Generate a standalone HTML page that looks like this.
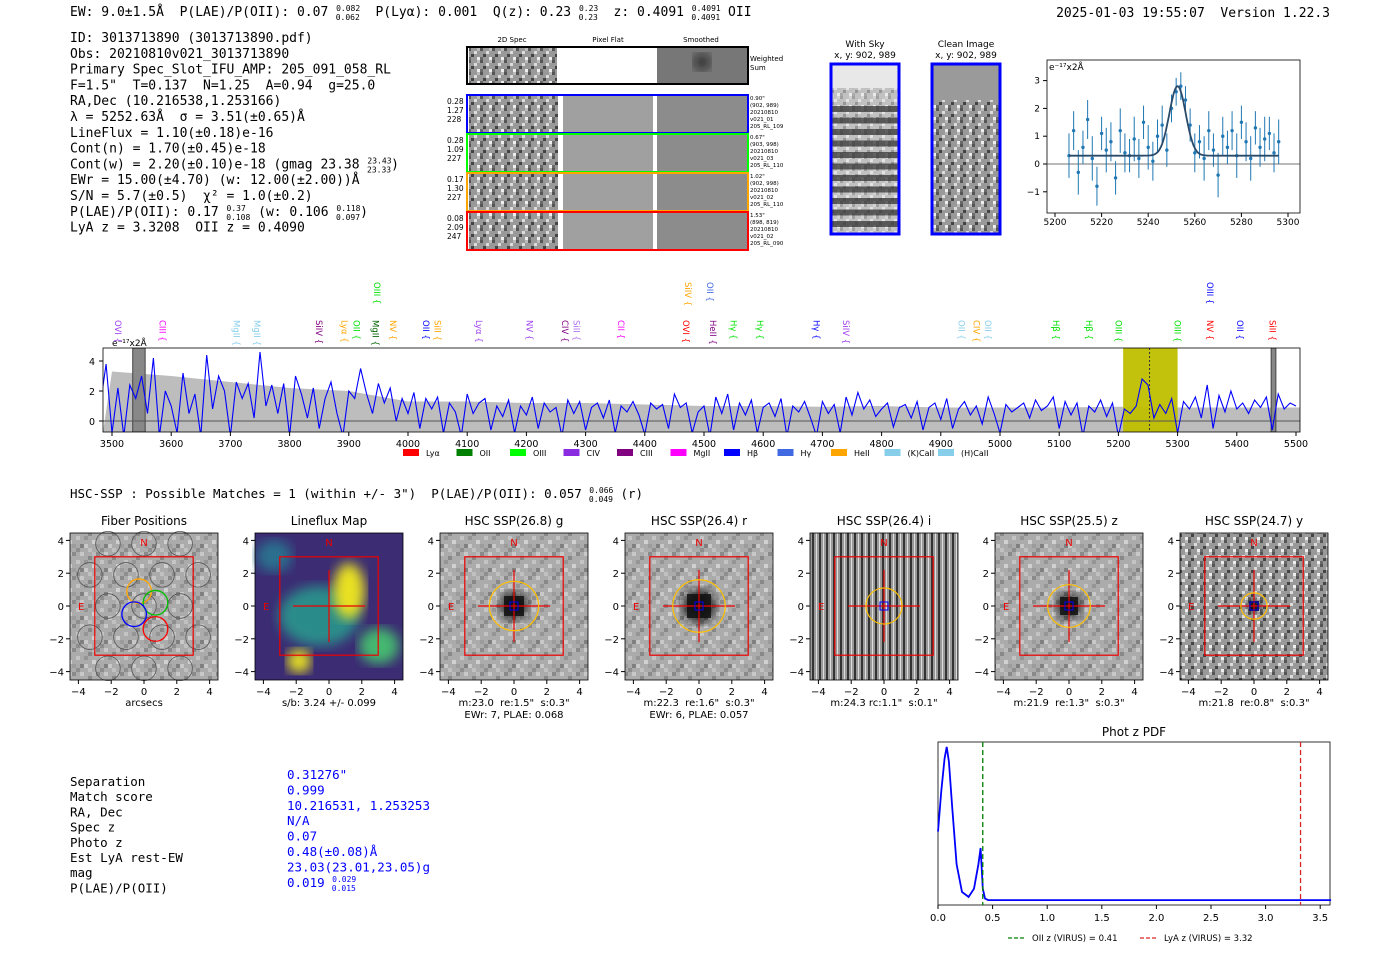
<!DOCTYPE html>
<html><head><meta charset="utf-8"><style>
body{margin:0;background:#fff;width:1400px;height:953px;overflow:hidden}
svg text{font-family:"DejaVu Sans","Liberation Sans",sans-serif;white-space:pre}
.mono{font-family:"DejaVu Sans Mono","Liberation Mono",monospace}
</style></head><body>
<svg id="s" width="1400" height="953" xmlns="http://www.w3.org/2000/svg" xml:space="preserve">
<defs>
<pattern id="noise" width="24" height="24" patternUnits="userSpaceOnUse">
<rect width="24" height="24" fill="#ababab"/>
<rect x="0" y="0" width="4" height="4" fill="#8a8a8a"/><rect x="8" y="0" width="4" height="4" fill="#c8c8c8"/><rect x="16" y="4" width="4" height="4" fill="#888"/><rect x="4" y="8" width="4" height="4" fill="#c4c4c4"/><rect x="12" y="8" width="4" height="4" fill="#959595"/><rect x="20" y="12" width="4" height="4" fill="#d0d0d0"/><rect x="0" y="16" width="4" height="4" fill="#9c9c9c"/><rect x="8" y="16" width="4" height="4" fill="#808080"/><rect x="16" y="20" width="4" height="4" fill="#c0c0c0"/><rect x="4" y="20" width="4" height="4" fill="#8e8e8e"/><rect x="20" y="0" width="4" height="4" fill="#bbb"/><rect x="12" y="16" width="4" height="4" fill="#c8c8c8"/>
</pattern>
<pattern id="fine" width="12" height="12" patternUnits="userSpaceOnUse">
<rect width="12" height="12" fill="#999"/>
<rect x="0" y="0" width="3" height="3" fill="#555"/><rect x="6" y="3" width="3" height="3" fill="#ddd"/><rect x="3" y="6" width="3" height="3" fill="#444"/><rect x="9" y="9" width="3" height="3" fill="#eee"/><rect x="9" y="0" width="3" height="3" fill="#bbb"/><rect x="0" y="9" width="3" height="3" fill="#6a6a6a"/>
</pattern>
<pattern id="stripes" width="7" height="7" patternUnits="userSpaceOnUse"><rect width="7" height="7" fill="#999"/><rect width="2" height="7" fill="#333"/><rect x="4" width="1" height="7" fill="#ddd"/></pattern>
<filter id="bl"><feGaussianBlur stdDeviation="6"/></filter>
</defs>
</svg>
<script>
// ---------- DATA ----------
const specWave0 = 3480, specStep = 10;
const specFlux = [1,3.8,-0.8,2.2,-1,2.4,1.5,3,0.5,4.2,
-1,2,1,-0.8,3.2,0.5,1.8,-1,4.4,0.8,
3,2,-1,2.6,1.5,2.5,0.2,4.6,1,2.4,
0.5,2.5,-1,3,1.8,0.2,2.2,-0.5,1.5,2.6,
0.5,-1,2,1.5,3.5,1.8,0.5,2.5,1.2,2.2,
0,1.5,0.5,1.9,-0.5,1.5,0.8,1.6,-0.8,1.2,
0.6,-1,1.8,0.5,1.2,1.5,-0.6,1.0,0.3,1.4,
-0.8,1.0,0.4,1.6,-0.5,1.2,0.6,0.9,-1,1.4,
0.5,1.3,-0.6,0.9,1.2,0.2,1.4,-0.8,1.0,0.6,
1.3,0.4,-0.9,1.2,0.8,1.1,-0.5,1.8,0.9,1.2,
-0.8,0.6,1.0,-1,1.6,0.5,1.8,-0.6,1.2,0.4,
1.4,-0.8,0.9,1.2,0.3,1.5,-1,1.0,0.6,1.3,
0.2,-1,1.3,0.5,1.1,-0.8,1.6,0.4,1.9,0.8,
1.4,0.3,0.8,1.2,-0.4,0.9,1.1,0.2,1.3,-0.6,
0.9,1.2,0.1,1.5,-0.5,0.8,1.3,0.4,1.0,-0.2,
1.6,0.5,-0.8,1.1,0.6,0.9,1.2,0.2,1.4,0.7,
1.0,1.6,-0.5,1.3,0.4,1.2,-1,1.0,0.6,1.4,
0.3,1.2,-1,0.8,0.5,1.0,2.8,2.4,0.2,1.1,
0.5,1.5,-0.8,1.3,0.8,1.6,0.2,2.4,-0.5,1.7,
0.6,2.0,0.8,1.2,0.5,1.4,0.9,1.6,-0.6,1.8,
0.8,1.2,1.0];
const errWave = [3500,3600,3700,3800,3900,4000,4100,4200,4300,4400,4500,4600,4700,4800,4900,5000,5100,5200,5300,5400,5500];
const errVals = [3.3,3.0,2.6,2.2,2.0,1.3,1.3,1.2,1.2,1.1,1.0,1.0,0.95,1.0,0.9,0.9,0.9,0.95,0.9,0.9,0.9];
const specXTicks = [3500,3600,3700,3800,3900,4000,4100,4200,4300,4400,4500,4600,4700,4800,4900,5000,5100,5200,5300,5400,5500];
const specYTicks = [0,2,4];
const lineLabels = [["OVI",3510,"#a040f0",0],["CIII",3585,"#ff00ff",0],["MgII",3710,"#87ceeb",0],["MgII",3745,"#87ceeb",0],["SiIV",3850,"#800080",0],["Lyα",3893,"#ffa500",0],["OII",3913,"#00e000",0],["MgII",3945,"#006400",0],["OIII",3948,"#00e000",1],["NV",3975,"#ffa500",0],["OII",4030,"#0000ff",0],["SiII",4050,"#ffa500",0],["Lyα",4120,"#a040f0",0],["NV",4205,"#a040f0",0],["CIV",4265,"#800080",0],["SiII",4285,"#b070f0",0],["CII",4360,"#ff00ff",0],["OVI",4470,"#ff0000",0],["SiIV",4473,"#ffa500",1],["OII",4510,"#4169e1",1],["HeII",4515,"#800080",0],["Hγ",4550,"#00e000",0],["Hγ",4595,"#00e000",0],["Hγ",4690,"#0000ff",0],["SiIV",4740,"#a040f0",0],["OII",4935,"#87ceeb",0],["CIV",4960,"#ffa500",0],["OII",4980,"#87ceeb",0],["Hβ",5095,"#00e000",0],["Hβ",5150,"#00e000",0],["OIII",5200,"#00e000",0],["OIII",5300,"#00e000",0],["NV",5355,"#ff0000",0],["OIII",5355,"#0000ff",1],["OII",5405,"#0000ff",0],["SiII",5460,"#ff0000",0]];
const legendNames = ["Lyα","OII","OIII","CIV","CIII","MgII","Hβ","Hγ","HeII","(K)CaII","(H)CaII"];
const legendColors = ["#ff0000","#008000","#00ff00","#8a2be2","#800080","#ff00ff","#0000ff","#4169e1","#ffa500","#87ceeb","#87ceeb"];
const fitWave0 = 5206, fitStep = 2;
const fitFlux = [0.3,1.2,-0.3,0.6,1.6,0.2,-0.8,1.1,0.5,0.8,-0.5,1.2,0.4,0.3,0.9,0.2,1.5,0.6,0.1,1.0,1.4,0.5,2.0,2.6,2.8,2.3,1.4,0.4,0.8,0.2,1.2,0.5,-0.4,1.0,0.6,1.2,0.3,1.5,0.8,0.2,1.3,0.6,0.9,1.1,0.4,0.8];
const fitErr = [0.8,0.7,0.8,0.6,0.7,0.8,0.7,0.6,0.8,0.7,0.6,0.8,0.7,0.6,0.8,0.7,0.6,0.8,0.7,0.6,0.7,0.6,0.5,0.5,0.5,0.5,0.6,0.7,0.6,0.8,0.7,0.6,0.8,0.7,0.6,0.7,0.8,0.6,0.7,0.8,0.6,0.7,0.8,0.6,0.7,0.8];
const fitParams = [2.5,5252.6,3.51,0.3]; // amp, mu, sigma, cont
const fitXTicks = [5200,5220,5240,5260,5280,5300];
const fitYTicks = [-1,0,1,2,3];
const pdfZ = [0,0.03,0.06,0.08,0.1,0.13,0.17,0.22,0.28,0.33,0.37,0.39,0.41,0.43,0.46,0.5,1,2,3,3.6];
const pdfP = [0.45,0.7,0.9,0.97,0.88,0.6,0.25,0.08,0.05,0.1,0.25,0.35,0.1,0.04,0.03,0.03,0.03,0.03,0.03,0.03];
const pdfTicks = [0,0.5,1,1.5,2,2.5,3,3.5];
const pdfLines = [0.41,3.32];
const cutTitles = ["Fiber Positions","Lineflux Map","HSC SSP(26.8) g","HSC SSP(26.4) r","HSC SSP(26.4) i","HSC SSP(25.5) z","HSC SSP(24.7) y"];
const cutXLab = [["arcsecs"],["s/b: 3.24 +/- 0.099"],["m:23.0  re:1.5\"  s:0.3\"","EWr: 7, PLAE: 0.068"],["m:22.3  re:1.6\"  s:0.3\"","EWr: 6, PLAE: 0.057"],["m:24.3 rc:1.1\"  s:0.1\""],["m:21.9  re:1.3\"  s:0.3\""],["m:21.8  re:0.8\"  s:0.3\""]];
const cutAper = [0,0,1.5,1.6,1.1,1.3,0.8];
const cutTicks = [-4,-2,0,2,4];

// ---------- helpers ----------
const S = document.getElementById('s'), NS = "http://www.w3.org/2000/svg";
function mk(tag, attrs, txt, parent){const e=document.createElementNS(NS,tag);for(const k in attrs)e.setAttribute(k,attrs[k]);if(txt!=null)e.textContent=txt;(parent||S).appendChild(e);return e;}
function T(x,y,s,size,opt){opt=opt||{};const e=mk('text',Object.assign({x:x,y:y,'font-size':size,fill:opt.fill||'#000','text-anchor':opt.anchor||'start'},opt.extra||{}),s);if(opt.mono)e.setAttribute('class','mono');return e;}
function sup(a,b){return '<tspan font-size="8" dy="-5">'+a+'</tspan><tspan font-size="8" dx="-'+(a.length*4.9).toFixed(1)+'" dy="9">'+b+'</tspan><tspan dy="-4">';}

// ---------- header ----------
let h = T(70,16,'',13,{mono:1});


h.innerHTML='EW: 9.0±1.5Å  P(LAE)/P(OII): 0.07 '+sup('0.082','0.062')+'  P(Lyα): 0.001  Q(z): 0.23 </tspan>'+sup('0.23','0.23')+'  z: 0.4091 </tspan>'+sup('0.4091','0.4091')+' OII</tspan>';
let hv = T(1330,17,'2025-01-03 19:55:07  Version 1.22.3',13,{mono:1,anchor:'end'});



const info = ['ID: 3013713890 (3013713890.pdf)','Obs: 20210810v021_3013713890','Primary Spec_Slot_IFU_AMP: 205_091_058_RL','F=1.5"  T=0.137  N=1.25  A=0.94  g=25.0','RA,Dec (10.216538,1.253166)','λ = 5252.63Å  σ = 3.51(±0.65)Å','LineFlux = 1.10(±0.18)e-16','Cont(n) = 1.70(±0.45)e-18','Cont(w) = 2.20(±0.10)e-18 (gmag 23.38 ','EWr = 15.00(±4.70) (w: 12.00(±2.00))Å','S/N = 5.7(±0.5)  χ² = 1.0(±0.2)','P(LAE)/P(OII): 0.17 ','LyA z = 3.3208  OII z = 0.4090'];
info.forEach((s,i)=>{const e=T(70,42+i*15.8,s,13,{mono:1});


if(i===8) e.innerHTML=s+sup('23.43','23.33')+')</tspan>';
if(i===11) e.innerHTML=s+sup('0.37','0.108')+' (w: 0.106 </tspan>'+sup('0.118','0.097')+')</tspan>';
});

// ---------- 2D spectra ----------
const g2=mk('g',{});


[['2D Spec',512],['Pixel Flat',608],['Smoothed',701]].forEach(a=>T(a[1],42,a[0],7,{anchor:'middle'}));
mk('rect',{x:469,y:48,width:88,height:35,fill:'url(#fine)'},null,g2);
mk('rect',{x:558,y:48,width:98,height:35,fill:'#fff'},null,g2);
mk('rect',{x:657,y:48,width:90,height:35,fill:'#777'},null,g2);
mk('ellipse',{cx:702,cy:62,rx:8,ry:8,fill:'#222',filter:'url(#bl)'},null,g2);
mk('rect',{x:467,y:47,width:281,height:37,fill:'none',stroke:'#000','stroke-width':2},null,g2);
T(750,61,'Weighted',7);T(750,70,'Sum',7);
const rowCols=['#0000ff','#00ff00','#ffa500','#ff0000'];
const rowTxt=[['0.28','1.27','228'],['0.28','1.09','227'],['0.17','1.30','227'],['0.08','2.09','247']];
const rowR=[['0.90"','(902, 989)','20210810','v021_01','205_RL_109'],['0.67"','(903, 998)','20210810','v021_03','205_RL_110'],['1.02"','(902, 998)','20210810','v021_02','205_RL_110'],['1.53"','(898, 819)','20210810','v021_02','205_RL_090']];
rowCols.forEach((c,i)=>{const y=95+i*39;
 mk('rect',{x:469,y:y,width:89,height:38,fill:'url(#fine)'},null,g2);
 mk('rect',{x:563,y:y,width:90,height:38,fill:'#a0a0a0'},null,g2);
 mk('rect',{x:657,y:y,width:90,height:38,fill:'#8c8c8c'},null,g2);
 mk('rect',{x:467,y:y,width:281,height:38,fill:'none',stroke:c,'stroke-width':2},null,g2);
 rowTxt[i].forEach((t,j)=>T(447,y+9+j*9,t,7.5));
 rowR[i].forEach((t,j)=>T(750,y+5+j*7,t,5.5));
});

// ---------- sky images ----------
T(865,47,'With Sky',9,{anchor:'middle'});T(865,58,'x, y: 902, 989',9,{anchor:'middle'});
T(966,47,'Clean Image',9,{anchor:'middle'});T(966,58,'x, y: 902, 989',9,{anchor:'middle'});
const sky=mk('g',{});


mk('rect',{x:832,y:65,width:66,height:168,fill:'#e8e8e8'},null,sky);
mk('rect',{x:832,y:88,width:66,height:145,fill:'url(#fine)',opacity:0.5},null,sky);
for(let k=0;k<11;k++) mk('rect',{x:832,y:106+k*11.5,width:66,height:6,fill:'#333',opacity:0.75},null,sky);
mk('rect',{x:831,y:64,width:68,height:170,fill:'none',stroke:'#0000ff','stroke-width':3},null,sky);
const cl=mk('g',{});


mk('rect',{x:933,y:65,width:66,height:168,fill:'url(#fine)'},null,cl);
mk('rect',{x:933,y:65,width:66,height:35,fill:'#9a9a9a'},null,cl);
mk('rect',{x:932,y:64,width:68,height:170,fill:'none',stroke:'#0000ff','stroke-width':3},null,cl);

// ---------- line fit ----------
const fx=w=>1055+(w-5200)*2.33, fy=v=>164-v*27.8;
const fg=mk('g',{});


mk('rect',{x:1047,y:60,width:253,height:153,fill:'#fff',stroke:'#000','stroke-width':0.8},null,fg);
mk('line',{x1:1047,x2:1300,y1:fy(0),y2:fy(0),stroke:'#444','stroke-width':0.8},null,fg);
fitXTicks.forEach(t=>{mk('line',{x1:fx(t),x2:fx(t),y1:213,y2:217,stroke:'#000'},null,fg);T(fx(t),225,String(t),9,{anchor:'middle'});});
fitYTicks.forEach(t=>{mk('line',{x1:1043,x2:1047,y1:fy(t),y2:fy(t),stroke:'#000'},null,fg);T(1040,fy(t)+3,t<0?'−'+(-t):String(t),9,{anchor:'end'});});
T(1049,70,'e⁻¹⁷x2Å',9);
fitFlux.forEach((v,i)=>{const w=fitWave0+i*fitStep,x=fx(w);
 const eb=mk('line',{x1:x,x2:x,y1:fy(v-fitErr[i]),y2:fy(v+fitErr[i]),stroke:'#1f77b4','stroke-width':1},null,fg);
 
 
 const c=mk('circle',{cx:x,cy:fy(v),r:1.7,fill:'#1f77b4'},null,fg);
 
 });
let fp='';for(let w=5206;w<=5296;w+=0.5){const v=fitParams[3]+fitParams[0]*Math.exp(-0.5*Math.pow((w-fitParams[1])/fitParams[2],2));fp+=(fp?'L':'M')+fx(w).toFixed(1)+','+fy(v).toFixed(1);}
const fl=mk('path',{d:fp,fill:'none',stroke:'#2a4a6a','stroke-width':1.8},null,fg);



// ---------- full spectrum ----------
const sx=w=>112+(w-3500)*0.592, sy=v=>421-v*15;
const SX0=103,SX1=1300,SY0=348,SY1=432;
const sg=mk('g',{});


mk('clipPath',{id:'sc'},null,sg);
mk('rect',{x:SX0,y:SY0,width:SX1-SX0,height:SY1-SY0},null,document.getElementById('sc'));
const cg=mk('g',{'clip-path':'url(#sc)'},null,sg);
let ep='M'+SX0+','+SY1;errWave.forEach((w,i)=>{ep+='L'+sx(w).toFixed(1)+','+sy(errVals[i]).toFixed(1);});ep+='L'+SX1+','+sy(errVals[errVals.length-1])+'L'+SX1+','+SY1+'Z';
const eb=mk('path',{d:ep,fill:'#bdbdbd'},null,cg);


const yb=mk('rect',{x:sx(5208),y:SY0,width:sx(5300)-sx(5208),height:SY1-SY0,fill:'#bfbf00',opacity:0.95},null,cg);


mk('line',{x1:sx(5252.6),x2:sx(5252.6),y1:SY0,y2:SY1,stroke:'#333','stroke-dasharray':'2,2'},null,cg);
[[3535,3556],[5458,5466]].forEach(b=>{mk('rect',{x:sx(b[0]),y:SY0,width:sx(b[1])-sx(b[0]),height:SY1-SY0,fill:'#888',stroke:'#444'},null,cg);});
mk('line',{x1:SX0,x2:SX1,y1:sy(0),y2:sy(0),stroke:'#555'},null,cg);
let spth='';specFlux.forEach((v,i)=>{spth+=(i?'L':'M')+sx(specWave0+i*specStep).toFixed(1)+','+sy(v).toFixed(1);});
const sl=mk('path',{d:spth,fill:'none',stroke:'#0000ff','stroke-width':1.1},null,cg);


mk('rect',{x:SX0,y:SY0,width:SX1-SX0,height:SY1-SY0,fill:'none',stroke:'#000','stroke-width':0.8},null,sg);
specXTicks.forEach(t=>{mk('line',{x1:sx(t),x2:sx(t),y1:SY1,y2:SY1+4,stroke:'#000'},null,sg);T(sx(t),447,String(t),9.5,{anchor:'middle'});});
specYTicks.forEach(t=>{mk('line',{x1:SX0-4,x2:SX0,y1:sy(t),y2:sy(t),stroke:'#000'},null,sg);T(SX0-8,sy(t)+4,String(t),9.5,{anchor:'end'});});
T(112,346,'e⁻¹⁷x2Å',9);
lineLabels.forEach(l=>{const x=sx(l[1]);const y=l[3]?282:320;
 const t=T(0,0,l[0]+' {',8.5,{fill:l[2],extra:{transform:'translate('+(x-3)+','+y+') rotate(90)'}});
 
 });
legendNames.forEach((n,i)=>{const x=403+i*53.5;
 const r=mk('rect',{x:x,y:449,width:16,height:7,fill:legendColors[i]});
 
 
 T(x+23,456,n,8);});

// ---------- HSC line ----------
const hl=T(70,498,'',12.5,{mono:1});


hl.innerHTML='HSC-SSP : Possible Matches = 1 (within +/- 3")  P(LAE)/P(OII): 0.057 '+sup('0.066','0.049')+' (r)</tspan>';

// ---------- cutouts ----------
const cutLeft=[70,255,440,625,810,995,1180];
cutTitles.forEach((tt,p)=>{
 const L=cutLeft[p],W=148,Tp=533,H=147,cx=L+74,cy=606,u=16.4;
 const g=mk('g',{});
 
 
 T(cx,525,tt,12,{anchor:'middle'});
 let fill='url(#noise)';
 if(p===1) fill='#3b2c73'; if(p===4) fill='url(#stripes)'; if(p===6) fill='url(#fine)';
 mk('rect',{x:L,y:Tp,width:W,height:H,fill:fill},null,g);
 if(p===1){
  mk('ellipse',{cx:cx-10,cy:cy+10,rx:40,ry:30,fill:'#2a8c8a',filter:'url(#bl)'},null,g);
  mk('ellipse',{cx:cx+20,cy:cy-15,rx:16,ry:28,fill:'#e8e020',filter:'url(#bl)'},null,g);
  mk('ellipse',{cx:cx-30,cy:cy+55,rx:12,ry:12,fill:'#e8e020',filter:'url(#bl)'},null,g);
  mk('ellipse',{cx:cx+50,cy:cy+40,rx:20,ry:18,fill:'#45b870',filter:'url(#bl)'},null,g);
  mk('ellipse',{cx:cx-55,cy:cy-50,rx:18,ry:16,fill:'#2b6f8e',filter:'url(#bl)'},null,g);
 }
 if(p>=2){const sz=[0,0,10,12,0,9,5][p];mk('circle',{cx:cx,cy:cy,r:sz*1.4,fill:'#000',opacity:0.8,filter:'url(#bl)'},null,g);
  if(sz) mk('rect',{x:cx-sz,y:cy-sz,width:sz*2,height:sz*2,fill:'#111',opacity:0.85},null,g);}
 if(p===0){
  [[0,0],[1.1,1.9],[-1.1,1.9],[2.2,0],[-2.2,0],[1.1,-1.9],[-1.1,-1.9],[0,3.8],[2.2,3.8],[-2.2,3.8],[3.3,1.9],[-3.3,1.9],[3.3,-1.9],[-3.3,-1.9],[0,-3.8],[2.2,-3.8],[-2.2,-3.8]].forEach(q=>mk('circle',{cx:cx+q[0]*u,cy:cy-q[1]*u,r:0.75*u,fill:'none',stroke:'#555','stroke-width':0.8},null,g));
  [['#ffa500',-0.3,0.9],['#00c000',0.7,0.2],['#0000ff',-0.6,-0.5],['#ff0000',0.7,-1.4]].forEach(q=>mk('circle',{cx:cx+q[1]*u,cy:cy-q[2]*u,r:0.75*u,fill:'none',stroke:q[0],'stroke-width':1.3},null,g));
 }
 mk('rect',{x:cx-3*u,y:cy-3*u,width:6*u,height:6*u,fill:'none',stroke:'#e00','stroke-width':1.2},null,g);
 if(p>0){mk('line',{x1:cx-2.2*u,x2:cx+2.2*u,y1:cy,y2:cy,stroke:'#e00','stroke-width':1.2},null,g);mk('line',{x1:cx,x2:cx,y1:cy-2.2*u,y2:cy+2.2*u,stroke:'#e00','stroke-width':1.2},null,g);}
 if(cutAper[p]){mk('circle',{cx:cx,cy:cy,r:cutAper[p]*u,fill:'none',stroke:'#ffc000','stroke-width':1.2},null,g);mk('rect',{x:cx-4,y:cy-4,width:8,height:8,fill:'none',stroke:'#00f','stroke-width':1},null,g);}
 T(cx,546,'N',10,{fill:'#e00',anchor:'middle'});T(L+8,610,'E',10,{fill:'#e00'});
 mk('rect',{x:L,y:Tp,width:W,height:H,fill:'none',stroke:'#000','stroke-width':0.8},null,g);
 cutTicks.forEach(t=>{const x=cx+t*u,y=cy-t*u,lab=t<0?'−'+(-t):String(t);
  mk('line',{x1:x,x2:x,y1:Tp+H,y2:Tp+H+4,stroke:'#000'},null,g);T(x,Tp+H+15,lab,10,{anchor:'middle'});
  mk('line',{x1:L-4,x2:L,y1:y,y2:y,stroke:'#000'},null,g);T(L-6,y+4,lab,10,{anchor:'end'});});
 cutXLab[p].forEach((s,j)=>T(cx,706+j*12,s,10,{anchor:'middle'}));
});

// ---------- match table ----------
const tl=['Separation','Match score','RA, Dec','Spec z','Photo z','Est LyA rest-EW','mag','P(LAE)/P(OII)'];
const tv=['0.31276"','0.999','10.216531, 1.253253','N/A','0.07','0.48(±0.08)Å','23.03(23.01,23.05)g','0.019 '];
tl.forEach((s,i)=>{const a=T(70,786+i*15.2,s,12.5,{mono:1});
 
 
 const b=T(287,779+i*15.4,tv[i],12.5,{mono:1,fill:'#0000ff'});
 
 
 if(i===7) b.innerHTML=tv[i]+sup('0.029','0.015')+'</tspan>';});

// ---------- phot z PDF ----------
const px=z=>938+z*109.2, PY0=742,PY1=905, py=v=>PY1-v*(PY1-PY0);
const pg=mk('g',{});


T(1134,736,'Phot z PDF',12,{anchor:'middle'});
mk('rect',{x:938,y:PY0,width:392,height:PY1-PY0,fill:'#fff',stroke:'#000','stroke-width':0.8},null,pg);
let pp='';pdfZ.forEach((z,i)=>{pp+=(i?'L':'M')+px(z).toFixed(1)+','+py(pdfP[i]).toFixed(1);});
const pl=mk('path',{d:pp,fill:'none',stroke:'#0000ff','stroke-width':1.8},null,pg);


const dcol=['#008000','#d62728'];
pdfLines.forEach((z,i)=>{const l=mk('line',{x1:px(z),x2:px(z),y1:PY0,y2:PY1,stroke:dcol[i],'stroke-dasharray':'5,3','stroke-width':1.3},null,pg);
 
 });
pdfTicks.forEach(t=>{mk('line',{x1:px(t),x2:px(t),y1:PY1,y2:PY1+4,stroke:'#000'},null,pg);T(px(t),921,t.toFixed(1),10,{anchor:'middle'});});
mk('line',{x1:1008,x2:1026,y1:938,y2:938,stroke:'#008000','stroke-dasharray':'4,2','stroke-width':1.3});
T(1032,941,'OII z (VIRUS) = 0.41',8.5);
mk('line',{x1:1140,x2:1158,y1:938,y2:938,stroke:'#d62728','stroke-dasharray':'4,2','stroke-width':1.3});
T(1164,941,'LyA z (VIRUS) = 3.32',8.5);
</script>
</body></html>
